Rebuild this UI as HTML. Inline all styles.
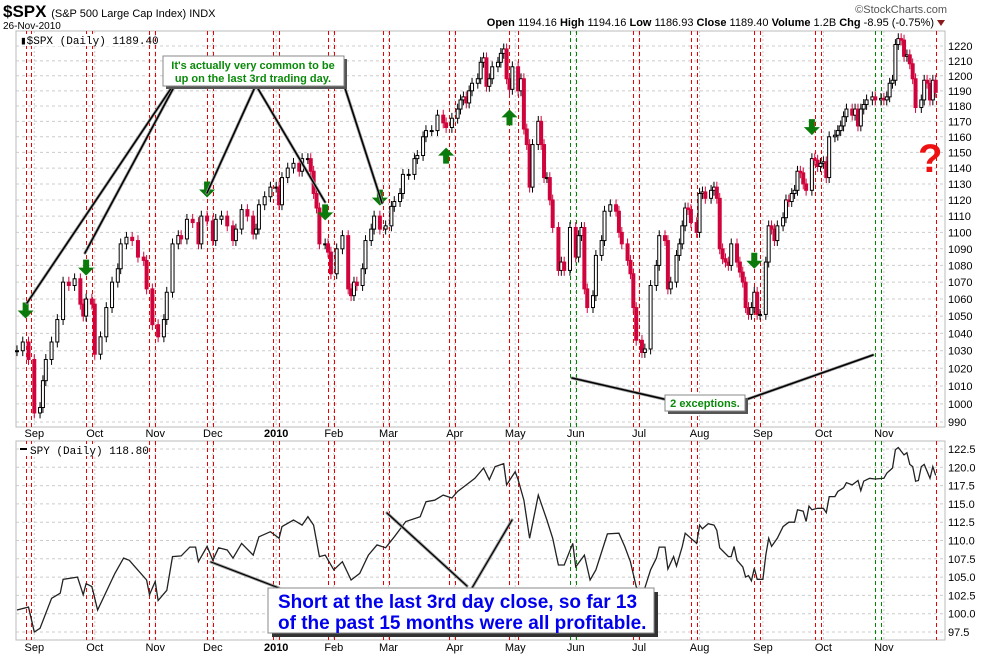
<!DOCTYPE html>
<html><head><meta charset="utf-8">
<style>
html,body{margin:0;padding:0;background:#fff;}
svg{display:block;font-family:"Liberation Sans",sans-serif;}
</style></head>
<body>
<svg id="chart" width="990" height="657" viewBox="0 0 990 657" xmlns="http://www.w3.org/2000/svg">
  <g>
    <text x="3" y="17" font-size="17" font-weight="bold">$SPX <tspan font-size="11" font-weight="normal">(S&amp;P 500 Large Cap Index) INDX</tspan></text>
    <text x="3" y="29" font-size="10">26-Nov-2010</text>
    <text x="947" y="13" font-size="11" fill="#555" text-anchor="end">©StockCharts.com</text>
    <text x="934" y="26" font-size="11" text-anchor="end"><tspan font-weight="bold">Open</tspan> 1194.16 <tspan font-weight="bold">High</tspan> 1194.16 <tspan font-weight="bold">Low</tspan> 1186.93 <tspan font-weight="bold">Close</tspan> 1189.40 <tspan font-weight="bold">Volume</tspan> 1.2B <tspan font-weight="bold">Chg</tspan> -8.95 (-0.75%)</text>
    <path d="M937,20 L945,20 L941,26 Z" fill="#8b1a1a"/>
  </g>
  <g id="grid"></g>
  <g id="marks"></g>
  <g id="annot"></g>
</svg>
<script>
// ---- data ----
const spxDays = [0,2,4,6,8,9,10,12,14,16,18,20,22,23,24,26,27,29,31,33,35,36,38,40,42,44,45,47,49,51,52,54,56,57,59,61,63,64,66,68,69,71,73,75,76,78,80,82,83,84,86,88,90,91,92,94,96,98,99,101,102,103,104,105,107,108,109,111,113,115,116,117,118,120,121,123,124,126,128,130,131,133,134,136,138,139,141,142,144,146,148,149,151,153,154,155,156,157,158,160,161,162,163,164,165,167,168,169,170,171,172,174,175,176,177,178,179,181,182,183,184,185,186,188,189,190,192,194,195,196,197,198,200,201,203,204,206,208,209,210,212,213,214,215,217,218,220,222,223,225,226,227,229,230,231,232,233,234,236,237,238,239,241,242,243,244,245,246,247,248,250,251,252,253,254,255,256,257,258,260,261,262,263,264,266,267,268,269,270,271,272,273,274,276,277,278,279,280,281,282,284,285,286,287,288,290,291,292,293,294,295,297,298,300,301,302,303,304,305,306,307,308,309,310,311,312,314,315,316,317,318,319];
const spxClose = [1030,1035,1025,995,998,1013,1025,1035,1048,1070,1068,1072,1057,1050,1060,1057,1028,1038,1055,1070,1078,1093,1097,1095,1085,1083,1066,1045,1038,1048,1064,1093,1098,1096,1108,1106,1093,1110,1107,1095,1108,1110,1104,1095,1102,1114,1110,1099,1102,1117,1122,1128,1128,1117,1134,1140,1143,1138,1146,1146,1138,1124,1115,1093,1093,1088,1075,1090,1098,1066,1062,1070,1068,1078,1095,1102,1110,1102,1104,1116,1119,1124,1136,1136,1146,1148,1160,1164,1164,1174,1169,1166,1172,1178,1184,1186,1182,1190,1195,1198,1209,1212,1193,1198,1206,1209,1215,1218,1198,1191,1206,1190,1198,1165,1155,1128,1155,1170,1155,1134,1134,1120,1103,1077,1082,1077,1103,1085,1098,1103,1066,1055,1062,1086,1095,1113,1117,1113,1100,1093,1083,1075,1055,1036,1029,1031,1068,1080,1098,1095,1066,1070,1086,1093,1104,1115,1114,1106,1100,1124,1125,1121,1126,1128,1121,1090,1084,1082,1080,1093,1082,1076,1070,1055,1051,1055,1064,1051,1051,1082,1104,1102,1095,1104,1109,1120,1119,1124,1126,1138,1137,1130,1126,1146,1145,1141,1143,1144,1134,1160,1161,1164,1167,1173,1178,1174,1178,1167,1178,1181,1184,1186,1184,1185,1184,1186,1195,1197,1221,1225,1224,1213,1214,1208,1198,1179,1184,1197,1195,1184,1197,1189];
const spyDays = [0,4,6,8,12,15,16,21,23,24,26,28,34,37,39,41,45,46,48,49,52,54,57,60,62,63,66,68,70,73,75,78,82,84,88,91,92,96,99,101,103,105,107,110,113,116,119,122,125,128,131,135,140,142,145,148,151,153,156,159,162,164,166,169,170,173,174,176,178,181,184,186,188,190,193,194,197,199,201,205,209,211,213,215,217,220,222,223,225,226,228,229,231,232,234,236,237,238,240,242,243,244,247,248,249,250,252,253,254,255,256,257,259,260,261,262,264,266,268,270,271,273,274,275,276,278,280,281,282,284,285,287,288,290,292,293,294,296,298,301,302,304,305,306,308,309,310,311,312,313,314,315,317,318,319];
const spyClose = [100.5,100.9,97.5,98,102.1,102.8,104.7,105.0,102.6,104.1,103.7,100.5,105.5,107.6,107.3,106.4,104.6,102.6,104.4,101.8,103.2,107.8,107.9,109.1,109.1,107.1,109.2,107.3,109.0,108.7,107.6,109.6,108.0,110.5,111.2,110.3,111.9,112.8,112.1,113.25,112.1,107.8,108.0,106.0,107.1,104.6,105.5,108.0,109.4,109.0,110.5,112.6,113.25,115.3,115.5,116.2,115.8,116.7,117.6,118.5,119.9,118.3,120.1,120.5,117.6,119.4,118.3,115.5,110.3,116.2,112.8,110.3,106.65,106.65,109.6,106.4,108.0,104.6,106.0,110.9,111.0,109.2,107.1,103.7,102.3,106.0,107.6,109.1,109.1,106.1,107.8,106.5,109.2,111.0,110.3,109.6,112.1,111.6,112.3,112.1,111.4,109.0,107.8,107.8,109.2,107.3,106.4,105.0,105.2,104.5,106.2,104.7,104.7,108.0,110.3,109.2,110.3,111.9,112.5,112.5,114.2,114.0,112.6,114.7,114.2,114.4,114.4,113.8,116.0,116.0,116.7,117.2,117.9,117.6,118.2,116.8,118.1,118.5,118.4,118.5,119.2,119.9,122.4,122.7,121.7,122.0,120.4,120.1,118.1,118.2,120.1,120.4,118.5,120.1,118.9];
const priceTicks = [1220,1210,1200,1190,1180,1170,1160,1150,1140,1130,1120,1110,1100,1090,1080,1070,1060,1050,1040,1030,1020,1010,1000,990];
const spyTicks = [122.5,120.0,117.5,115.0,112.5,110.0,107.5,105.0,102.5,100.0,97.5];
const monthLabels = ["Sep","Oct","Nov","Dec","2010","Feb","Mar","Apr","May","Jun","Jul","Aug","Sep","Oct","Nov"];
const monthStartDays = [6,27,48,68,90,110,129,152,173,194,216,237,259,280,301];
const lastThirdDays = [3,24,46,66,89,108,127,150,171,192,214,234,256,277,298,319];
const lastDays = [5,26,48,68,91,110,129,152,174,194,216,236,258,279,300];
const exceptionMonths = [9,14];
const downArrowDays = [3,24,66,107,126,276,256];
const upArrowDays = [149,171];

// ---- geometry ----
const NS="http://www.w3.org/2000/svg";
const L=16,R=945,T1=31,B1=427,T2=441,B2=640;
const xOf=d=>17+d*2.88;
const yP=p=>46+1800*Math.log(1220/p);
const yS=v=>632-(v-97.5)*7.32;
function mk(tag,attrs,parent){const e=document.createElementNS(NS,tag);for(const k in attrs)e.setAttribute(k,attrs[k]);parent.appendChild(e);return e;}
const grid=document.getElementById('grid'),marks=document.getElementById('marks'),annot=document.getElementById('annot');

// panels
let p1=mk('rect',{x:L,y:T1,width:R-L,height:B1-T1,fill:'#fff',stroke:'#bbb'},grid);


let p2=mk('rect',{x:L,y:T2,width:R-L,height:B2-T2,fill:'#fff',stroke:'#bbb'},grid);



priceTicks.forEach(p=>{
  const y=yP(p);
  let g=mk('line',{x1:L,x2:R,y1:y,y2:y,stroke:'#ccc','stroke-dasharray':'3,3'},grid);
  
  
  let t=mk('text',{x:R+3,y:y+4,'font-size':11},grid);t.textContent=p;
  
  
});
spyTicks.forEach(v=>{
  const y=yS(v);
  let g=mk('line',{x1:L,x2:R,y1:y,y2:y,stroke:'#ccc','stroke-dasharray':'3,3'},grid);
  
  
  let t=mk('text',{x:R+3,y:y+4,'font-size':11},grid);t.textContent=v.toFixed(1);
  
  
});
monthStartDays.forEach((d,i)=>{
  const x=xOf(d);
  [[T1,B1],[T2,B2]].forEach(([a,b])=>{
    let g=mk('line',{x1:x,x2:x,y1:a,y2:b,stroke:'#ccc','stroke-dasharray':'2,2'},grid);
    
    
  });
  [437,651].forEach(y=>{
    let t=mk('text',{x:x,y:y,'font-size':11,'text-anchor':'middle','font-weight':monthLabels[i]==='2010'?'bold':'normal'},grid);
    t.textContent=monthLabels[i];
    
    
  });
});
function vline(d,col){
  const x=Math.round(xOf(d))+0.5;
  [[T1,B1],[T2,B2]].forEach(([a,b])=>{
    let l=mk('line',{x1:x,x2:x,y1:a,y2:b,stroke:col,'stroke-width':1,'stroke-dasharray':'4,3'},grid);
    
    
  });
}
lastThirdDays.forEach((d,i)=>vline(d,exceptionMonths.includes(i)?'#080':'#e00'));
lastDays.forEach((d,i)=>vline(d,exceptionMonths.includes(i)?'#080':'#e00'));

// candles
for(let i=0;i<spxDays.length;i++){
  const c=spxClose[i],o=i>0?spxClose[i-1]:c;
  const x=xOf(spxDays[i]);
  const hi=Math.max(o,c)*1.003,lo=Math.min(o,c)*0.997;
  const down=c<o,col=down?'#d0043c':'#000';
  let w=mk('line',{x1:x,x2:x,y1:yP(hi),y2:yP(lo),stroke:col,'stroke-width':1},marks);
  
  
  const yt=yP(Math.max(o,c)),yb=yP(Math.min(o,c));
  let b=mk('rect',{x:x-1.5,y:yt,width:3,height:Math.max(1,yb-yt),fill:down?'#d0043c':'#fff',stroke:col,'stroke-width':1},marks);
  
  
}
// spy line
let pts=spyDays.map((d,i)=>xOf(d).toFixed(1)+','+yS(spyClose[i]).toFixed(1)).join(' ');
let sl=mk('polyline',{points:pts,fill:'none',stroke:'#222','stroke-width':1.3},marks);



// arrows
function arrow(d,down){
  const x=xOf(d);
  const i=spxDays.reduce((b,v,k)=>Math.abs(v-d)<Math.abs(spxDays[b]-d)?k:b,0);
  let path;
  if(down){const y=yP(spxClose[i]*1.012);path=`M${x-3},${y-18} h6 v8 h5 l-8,8 l-8,-8 h5 z`;}
  else{const y=yP(spxClose[i]*0.99);path=`M${x-3},${y+18} h6 v-8 h5 l-8,-8 l-8,8 h5 z`;}
  let a=mk('path',{d:path,fill:'#0a7a0a'},annot);
  
  
}
downArrowDays.forEach(d=>arrow(d,true));
upArrowDays.forEach(d=>arrow(d,false));
</script>
<svg style="position:absolute;left:0;top:0" width="990" height="657">
  <g stroke-linecap="round" fill="none">
    <path d="M172,87 L27,303 M174,87 L85,253" stroke="#999" stroke-width="3"/>
    <path d="M172,87 L27,303 M174,87 L85,253" stroke="#000" stroke-width="1.5"/>
    <path d="M255,87 L207,193 M257,87 L325,202" stroke="#999" stroke-width="3"/>
    <path d="M255,87 L207,193 M257,87 L325,202" stroke="#000" stroke-width="1.5"/>
    <path d="M343,82 L382,203" stroke="#999" stroke-width="3"/>
    <path d="M343,82 L382,203" stroke="#000" stroke-width="1.5"/>
    <path d="M572,378 L668,400 M745,400 L873,355" stroke="#999" stroke-width="3"/>
    <path d="M572,378 L668,400 M745,400 L873,355" stroke="#000" stroke-width="1.5"/>
    <path d="M211,562 L279,588 M387,513 L467,586 M512,520 L472,588" stroke="#999" stroke-width="3"/>
    <path d="M211,562 L279,588 M387,513 L467,586 M512,520 L472,588" stroke="#000" stroke-width="1.2"/>
  </g>
  <g>
    <rect x="166" y="59" width="181" height="30" fill="#555"/>
    <rect x="163" y="56" width="181" height="30" fill="#fff" stroke="#888"/>
    <text x="253" y="69" font-size="11" font-weight="bold" fill="#0a8a0a" text-anchor="middle" font-family="Liberation Sans, sans-serif">It's actually very common to be</text>
    <text x="253" y="82" font-size="11" font-weight="bold" fill="#0a8a0a" text-anchor="middle" font-family="Liberation Sans, sans-serif">up on the last 3rd trading day.</text>
  </g>
  <g>
    <rect x="668" y="398" width="80" height="16" fill="#555"/>
    <rect x="665" y="395" width="80" height="16" fill="#fff" stroke="#888"/>
    <text x="705" y="407" font-size="11" font-weight="bold" fill="#0a8a0a" text-anchor="middle" font-family="Liberation Sans, sans-serif">2 exceptions.</text>
  </g>
  <g>
    <rect x="272" y="592" width="386" height="45" fill="#333"/>
    <rect x="268" y="588" width="386" height="45" fill="#fff" stroke="#888"/>
    <text x="278" y="608" font-size="19" font-weight="bold" fill="#0000ee" font-family="Liberation Sans, sans-serif">Short at the last 3rd day close, so far 13</text>
    <text x="278" y="629" font-size="19" font-weight="bold" fill="#0000ee" font-family="Liberation Sans, sans-serif">of the past 15 months were all profitable.</text>
  </g>
  <text x="918" y="172" font-size="40" font-weight="bold" fill="#ee1111" font-family="Liberation Sans, sans-serif">?</text>
  <g>
    <rect x="19" y="34" width="120" height="12" fill="#fff"/>
    <text x="20" y="44" font-size="11" font-family="Liberation Mono, monospace">▮$SPX (Daily) 1189.40</text>
  </g>
  <g>
    <rect x="19" y="444" width="120" height="12" fill="#fff"/>
    <rect x="20" y="448" width="7" height="2" fill="#000"/>
    <text x="30" y="454" font-size="11" font-family="Liberation Mono, monospace">SPY (Daily) 118.80</text>
  </g>
</svg>
</body></html>
